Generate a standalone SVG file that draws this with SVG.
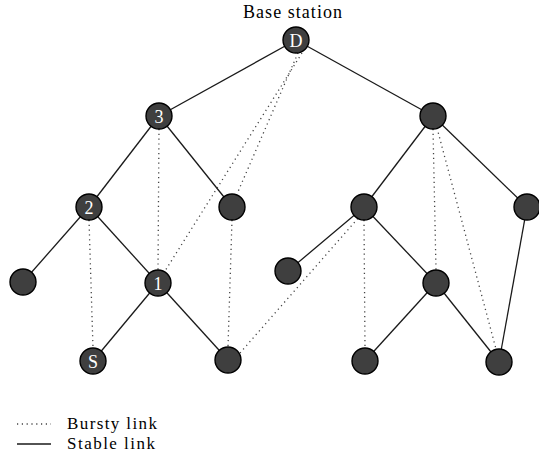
<svg xmlns="http://www.w3.org/2000/svg" width="539" height="463" viewBox="0 0 539 463">
  <style>
    .stable { stroke: #1a1a1a; stroke-width: 1.3; fill: none; }
    .bursty { stroke: #444; stroke-width: 1.3; stroke-dasharray: 1.2 3.6; fill: none; }
    .node circle { fill: #3f3f3f; stroke: #000; stroke-width: 1.4; }
    .node text { fill: #fff; font-family: "Liberation Serif", serif; font-size: 18px; text-anchor: middle; }
    .label { fill: #000; font-family: "Liberation Serif", serif; font-size: 18px; }
    .legend-text { fill: #000; font-family: "Liberation Serif", serif; font-size: 17px; }
  </style>
  <rect width="539" height="463" fill="#fff"/>

  <g id="connectors">
    <!-- stable links -->
    <line class="stable" x1="296" y1="40" x2="159" y2="116"/>
    <line class="stable" x1="296" y1="40" x2="433" y2="116"/>
    <line class="stable" x1="159" y1="116" x2="89" y2="207"/>
    <line class="stable" x1="159" y1="116" x2="232" y2="207"/>
    <line class="stable" x1="89" y1="207" x2="23" y2="282"/>
    <line class="stable" x1="89" y1="207" x2="158" y2="283"/>
    <line class="stable" x1="158" y1="283" x2="93" y2="361"/>
    <line class="stable" x1="158" y1="283" x2="228" y2="360"/>
    <line class="stable" x1="433" y1="116" x2="364" y2="207"/>
    <line class="stable" x1="433" y1="116" x2="527" y2="207"/>
    <line class="stable" x1="364" y1="207" x2="288" y2="271"/>
    <line class="stable" x1="364" y1="207" x2="436" y2="283"/>
    <line class="stable" x1="436" y1="283" x2="365" y2="361"/>
    <line class="stable" x1="436" y1="283" x2="499" y2="362"/>
    <line class="stable" x1="527" y1="207" x2="499" y2="362"/>
    <!-- bursty links -->
    <line class="bursty" x1="298" y1="53" x2="237" y2="194"/>
    <line class="bursty" x1="302" y1="53" x2="165" y2="271"/>
    <line class="bursty" x1="159" y1="129" x2="158" y2="270"/>
    <line class="bursty" x1="89" y1="220" x2="93" y2="348"/>
    <line class="bursty" x1="232" y1="220" x2="228" y2="347"/>
    <line class="bursty" x1="240" y1="353" x2="360" y2="216"/>
    <line class="bursty" x1="364" y1="220" x2="365" y2="348"/>
    <line class="bursty" x1="433" y1="129" x2="436" y2="270"/>
    <line class="bursty" x1="437" y1="128" x2="496" y2="349"/>
  </g>

  <g id="label-base-station">
    <text class="label" x="243" y="18" textLength="99" lengthAdjust="spacing">Base station</text>
  </g>

  <g id="node-D" class="node"><circle cx="296" cy="40" r="13"/><text x="296" y="46.5">D</text></g>
  <g id="node-3" class="node"><circle cx="159" cy="116" r="13"/><text x="159" y="122.5">3</text></g>
  <g id="node-r1" class="node"><circle cx="433" cy="116" r="13"/></g>
  <g id="node-2" class="node"><circle cx="89" cy="207" r="13"/><text x="89" y="213.5">2</text></g>
  <g id="node-m1" class="node"><circle cx="232" cy="207" r="13"/></g>
  <g id="node-r2" class="node"><circle cx="364" cy="207" r="13"/></g>
  <g id="node-r3" class="node"><circle cx="527" cy="207" r="13"/></g>
  <g id="node-l1" class="node"><circle cx="23" cy="282" r="13"/></g>
  <g id="node-1" class="node"><circle cx="158" cy="283" r="13"/><text x="158" y="289.5">1</text></g>
  <g id="node-m2" class="node"><circle cx="288" cy="271" r="13"/></g>
  <g id="node-r4" class="node"><circle cx="436" cy="283" r="13"/></g>
  <g id="node-S" class="node"><circle cx="93" cy="361" r="13"/><text x="93" y="367.5">S</text></g>
  <g id="node-m3" class="node"><circle cx="228" cy="360" r="13"/></g>
  <g id="node-r5" class="node"><circle cx="365" cy="361" r="13"/></g>
  <g id="node-r6" class="node"><circle cx="499" cy="362" r="13"/></g>

  <g id="legend">
    <line class="bursty" x1="17" y1="424" x2="51" y2="424"/>
    <text class="legend-text" x="67" y="429" textLength="90" lengthAdjust="spacing">Bursty link</text>
    <line class="stable" x1="17" y1="444" x2="51" y2="444"/>
    <text class="legend-text" x="67" y="449" textLength="88" lengthAdjust="spacing">Stable link</text>
  </g>
</svg>
